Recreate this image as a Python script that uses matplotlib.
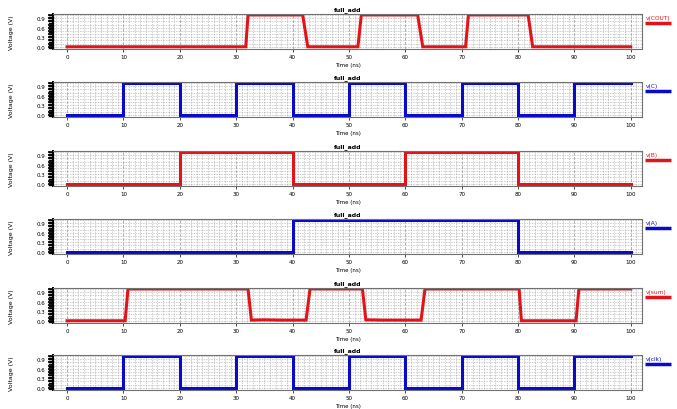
import numpy as np
import matplotlib
matplotlib.use('Agg')
import matplotlib.pyplot as plt
from matplotlib.ticker import MultipleLocator

# transition points (time in ns, voltage in V)
cout_t = [0, 31.7, 32.1, 41.8, 42.7, 51.6, 52.2, 62.2, 63.1, 70.7, 71.2, 81.8, 82.6, 100]
cout_v = [0, 0, 1, 1, 0, 0, 1, 1, 0, 0, 1, 1, 0, 0]

c_t = [0, 10, 10, 20, 20, 30, 30, 40, 40, 50, 50, 60, 60, 70, 70, 80, 80, 90, 90, 100]
c_v = [0, 0, 1, 1, 0, 0, 1, 1, 0, 0, 1, 1, 0, 0, 1, 1, 0, 0, 1, 1]

b_t = [0, 20, 20, 40, 40, 60, 60, 80, 80, 100]
b_v = [0, 0, 1, 1, 0, 0, 1, 1, 0, 0]

a_t = [0, 40, 40, 80, 80, 100]
a_v = [0, 0, 1, 1, 0, 0]

sum_t = [0, 10.3, 10.8, 32.1, 32.7, 35, 38, 42.4, 43.1, 52.4, 53.0, 56, 62.8, 63.5,
         80.2, 80.6, 90.3, 90.8, 100]
sum_v = [0, 0, 1, 1, 0.02, 0.03, 0.02, 0.02, 1, 1, 0.03, 0.02, 0.02, 1,
         1, 0, 0, 1, 1]

clk_t = [0, 10, 10, 20, 20, 30, 30, 40, 40, 50, 50, 60, 60, 70, 70, 80, 80, 90, 90, 100]
clk_v = [0, 0, 1, 1, 0, 0, 1, 1, 0, 0, 1, 1, 0, 0, 1, 1, 0, 0, 1, 1]

RED = '#e2141a'
BLUE = '#0a0acb'

signals = [
    ('v(COUT)', cout_t, cout_v, RED),
    ('v(C)', c_t, c_v, BLUE),
    ('v(B)', b_t, b_v, RED),
    ('v(A)', a_t, a_v, BLUE),
    ('v(sum)', sum_t, sum_v, RED),
    ('v(clk)', clk_t, clk_v, BLUE),
]

W, H = 677, 410
fig = plt.figure(figsize=(W / 100, H / 100), dpi=100)

panel_tops = [15, 83, 152, 220, 289, 356]
left_px, right_px, height_px = 53, 642, 35

for (name, t, v, col), top in zip(signals, panel_tops):
    ax = fig.add_axes([left_px / W, 1 - (top + height_px) / H,
                       (right_px - left_px) / W, height_px / H])
    ax.plot(t, v, color=col, lw=2.2, solid_joinstyle='miter')
    ax.set_xlim(-2.5, 102)
    ax.set_ylim(-0.07, 1.03)

    ax.xaxis.set_major_locator(MultipleLocator(10))
    ax.xaxis.set_minor_locator(MultipleLocator(1))
    ax.yaxis.set_minor_locator(MultipleLocator(0.1))
    ax.set_yticks([0.0, 0.3, 0.6, 0.9])
    ax.set_yticklabels(['0.0', '0.3', '0.6', '0.9'])

    ax.grid(which='minor', color='#8c8c8c', ls=':', lw=0.45)
    ax.grid(which='major', axis='x', color='#a8a8a8', ls='--', lw=0.6)
    ax.grid(which='major', axis='y', color='#8c8c8c', ls=':', lw=0.45)
    ax.set_axisbelow(True)

    ax.tick_params(which='both', labelsize=4, length=2, width=0.5, pad=1.5)
    ax.tick_params(axis='y', which='both', length=3.5, width=1.2, pad=2)
    ax.tick_params(axis='x', which='minor', length=0)
    for s in ax.spines.values():
        s.set_color('#707070')
        s.set_linewidth(0.8)
    ax.spines['left'].set_color('black')
    ax.spines['left'].set_linewidth(1.4)

    # dense tick band along the left edge, as in the simulator's y axis
    for yy in np.arange(-0.05, 1.03, 0.05):
        ax.plot([-0.0065, 0.0], [yy, yy], transform=ax.get_yaxis_transform(),
                color='black', lw=1.0, clip_on=False)

    ax.set_title('full_add', fontsize=4.5, fontweight='bold', pad=3)
    ax.set_xlabel('Time (ns)', fontsize=4, labelpad=2)
    ax.set_ylabel('Voltage (V)', fontsize=4.5, labelpad=16)

    # trace name with a short coloured bar, like the simulator's legend
    ax.text(1.006, 0.9, name, transform=ax.transAxes, color=col,
            fontsize=4.2, va='center', ha='left')
    ax.plot([1.005, 1.05], [0.74, 0.74], transform=ax.transAxes, color=col,
            lw=2.5, clip_on=False, solid_capstyle='butt')

fig.savefig('out.png', dpi=100)
